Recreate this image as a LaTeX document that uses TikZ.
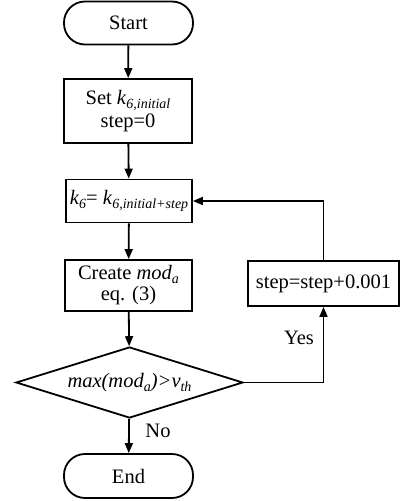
\documentclass[tikz,border=0pt]{standalone}
\usepackage{fontspec}
\setmainfont{Liberation Serif}
\usetikzlibrary{shapes.geometric,arrows.meta}
\newcommand\mysb[1]{\raisebox{-0.4ex}{\fontsize{14}{14}\selectfont\itshape #1}}
\begin{document}
\begin{tikzpicture}[x=1pt,y=-1pt,
  font=\fontsize{20.5}{21}\selectfont,
  line width=1.8pt,
  every node/.style={inner sep=0pt, align=center},
  term/.style={draw, rounded corners=21pt, minimum width=129pt, minimum height=43pt},
  proc/.style={draw, rectangle},
  dec/.style={draw, diamond, aspect=3.2, minimum width=227pt, minimum height=71pt},
  arr/.style={-{Triangle[length=10pt,width=8pt]}},
  lbl/.style={font=\fontsize{20.5}{21}\selectfont}
]
\useasboundingbox (0,0) rectangle (400,501);
\node[term] (start) at (128.5,23) {Start};
\node[proc, minimum width=128pt, minimum height=64pt, font=\fontsize{20.5}{23}\selectfont] (set) at (128,111) {Set \textit{k}\mysb{6,initial}\\step=0};
\node[proc, minimum width=126pt, minimum height=43pt] (k6) at (129,201) {\textit{k}\mysb{6}= \textit{k}\mysb{6,initial+step}};
\node[proc, minimum width=127pt, minimum height=51pt] (create) at (128.5,285.5) {Create \textit{mod}\mysb{a}\\eq. (3)};
\node[dec] (dia) at (129.5,382.5) {\textit{max(mod}\mysb{a}\textit{)>v}\mysb{th}};
\node[term, minimum height=44pt] (end) at (128.5,476) {End};
\node[proc, minimum width=151pt, minimum height=45pt] (stepb) at (323.5,283.5) {step=step+0.001};
\node[lbl] (yes) at (299,338) {Yes};
\node[lbl] (no) at (158,431) {No};
\draw[arr] (start) -- (set);
\draw[arr] (set) -- (k6);
\draw[arr] (k6) -- (create);
\draw[arr] (create) -- (dia);
\draw[arr] (dia) -- (end);
\draw[arr] (dia.east) -| (stepb.south);
\draw[arr] (stepb.north) |- (k6.east);
\end{tikzpicture}
\end{document}
